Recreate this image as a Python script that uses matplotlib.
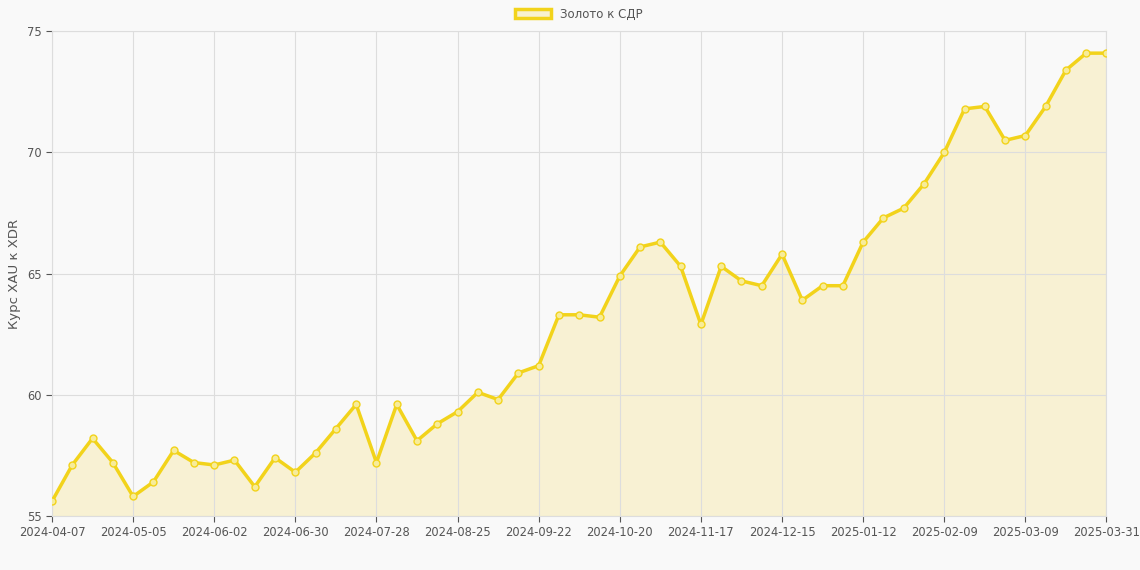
import matplotlib
matplotlib.use("Agg")
import matplotlib.pyplot as plt
from matplotlib.patches import Patch

values = [55.6,57.1,58.2,57.2,55.8,56.4,57.7,57.2,57.1,57.3,56.2,57.4,56.8,57.6,58.6,59.6,
          57.2,59.6,58.1,58.8,59.3,60.1,59.8,60.9,61.2,63.3,63.3,63.2,64.9,66.1,66.3,65.3,
          62.9,65.3,64.7,64.5,65.8,63.9,64.5,64.5,66.3,67.3,67.7,68.7,70.0,71.8,71.9,70.5,
          70.7,71.9,73.4,74.1,74.1]
tick_labels = ["2024-04-07","2024-05-05","2024-06-02","2024-06-30","2024-07-28","2024-08-25",
               "2024-09-22","2024-10-20","2024-11-17","2024-12-15","2025-01-12","2025-02-09",
               "2025-03-09","2025-03-31"]
series_name = "Золото к СДР"
y_label = "Курс XAU к XDR"

x = list(range(len(values)))
fig = plt.figure(figsize=(11.4, 5.7), dpi=100, facecolor="#f9f9f9")
ax = fig.add_axes([0.0456, 0.095, 0.925, 0.85])
ax.set_facecolor("#f9f9f9")
line = "#f2d31b"
ax.fill_between(x, values, 55, color="#f8f1cf", alpha=0.9, zorder=1)
ax.plot(x, values, color=line, lw=2.5, marker="o", ms=5, mfc="#f7ec9a", mec=line, mew=1, zorder=3)
ax.set_xlim(0, len(values) - 1)
ax.set_ylim(55, 75)
ax.set_yticks([55, 60, 65, 70, 75])
ax.set_xticks(list(range(0, len(values), 4)))
ax.set_xticklabels(tick_labels)
ax.grid(True, color="#dddddd", lw=0.8)
for s in ax.spines.values():
    s.set_color("#dddddd")
ax.tick_params(colors="#555555", labelsize=8.3, length=4)
ax.set_ylabel(y_label, color="#555555", fontsize=9.5)
ax.legend(handles=[Patch(facecolor="#f8f1cf", edgecolor=line, lw=2.5, label=series_name)],
          loc="lower center", bbox_to_anchor=(0.5, 1.0), frameon=False, fontsize=8.5,
          labelcolor="#555555", handlelength=3)
fig.savefig("out.png", dpi=100, facecolor=fig.get_facecolor())
